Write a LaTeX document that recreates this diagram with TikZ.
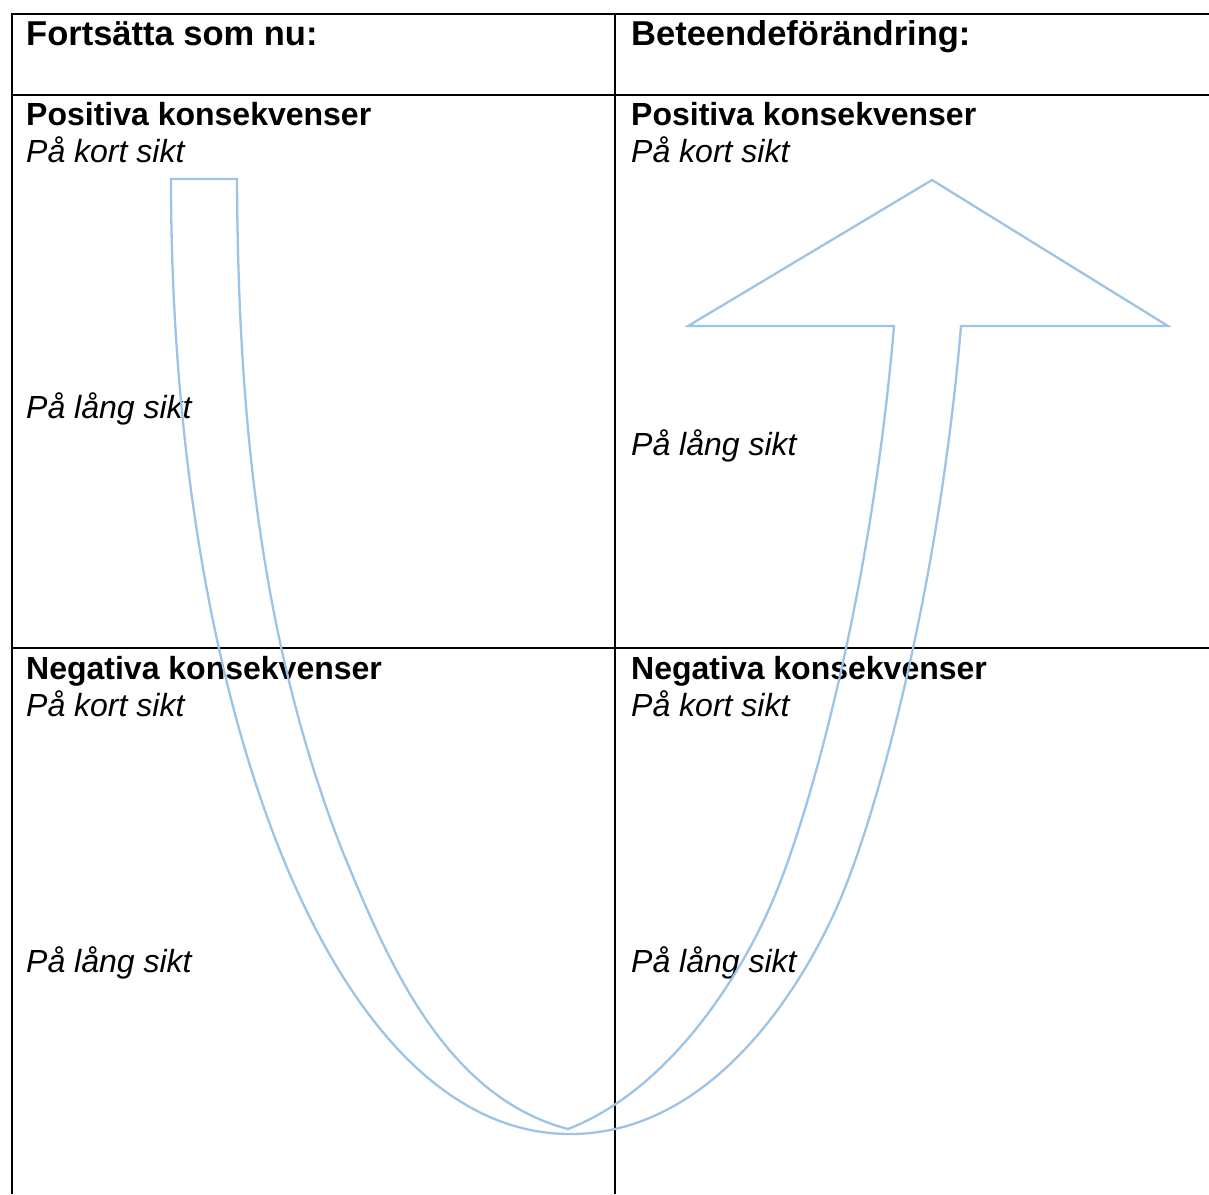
\documentclass[tikz,border=0pt]{standalone}
\usepackage{fontspec}
\setmainfont{Liberation Sans}
\definecolor{arrowblue}{RGB}{157,195,230}
\tikzset{
  gridline/.style={line width=2pt, black},
  arrowline/.style={line width=2.3pt, arrowblue, line join=miter},
  titletxt/.style={anchor=base west, inner sep=0pt, font=\fontsize{34.5}{40}\selectfont\bfseries},
  headtxt/.style={anchor=base west, inner sep=0pt, font=\fontsize{32}{38}\selectfont\bfseries},
  subtxt/.style={anchor=base west, inner sep=0pt, font=\fontsize{32}{38}\selectfont\itshape},
}
\begin{document}
\begin{tikzpicture}[x=1pt,y=-1pt]
\useasboundingbox (0,0) rectangle (1209,1194);
% table
\coordinate (tl) at (12,14);
\coordinate (tr) at (1209,14);
\coordinate (r1l) at (12,95);
\coordinate (r1r) at (1209,95);
\coordinate (r2l) at (12,648);
\coordinate (r2r) at (1209,648);
\coordinate (bl) at (12,1194);
\coordinate (mt) at (615,14);
\coordinate (mb) at (615,1194);
\draw[gridline] (tr) -- (tl) -- (bl);
\draw[gridline] (r1l) -- (r1r);
\draw[gridline] (r2l) -- (r2r);
\draw[gridline] (mt) -- (mb);
% texts
\node[titletxt] (h1) at (26,45) {Fortsätta som nu:};
\node[titletxt] (h2) at (631,45) {Beteendeförändring:};
\node[headtxt] (p1) at (26,125) {Positiva konsekvenser};
\node[subtxt] (p1k) at (26,162) {På kort sikt};
\node[subtxt] (p1l) at (26,418) {På lång sikt};
\node[headtxt] (p2) at (631,125) {Positiva konsekvenser};
\node[subtxt] (p2k) at (631,162) {På kort sikt};
\node[subtxt] (p2l) at (631,455) {På lång sikt};
\node[headtxt] (n1) at (26,679) {Negativa konsekvenser};
\node[subtxt] (n1k) at (26,716) {På kort sikt};
\node[subtxt] (n1l) at (26,972) {På lång sikt};
\node[headtxt] (n2) at (631,679) {Negativa konsekvenser};
\node[subtxt] (n2k) at (631,716) {På kort sikt};
\node[subtxt] (n2l) at (631,972) {På lång sikt};
% U-turn arrow
\coordinate (tailR) at (237,179);
\coordinate (tailL) at (171,179);
\coordinate (bot) at (570,1134);
\coordinate (oMid) at (840,900);
\coordinate (stemR) at (961,326);
\coordinate (headR) at (1168,326);
\coordinate (tip) at (932,180);
\coordinate (headL) at (688,326);
\coordinate (stemL) at (894,326);
\coordinate (iMid) at (773,900);
\coordinate (cusp) at (568,1129);
\coordinate (lMid) at (342,850);
\draw[arrowline] (tailR) -- (tailL)
  .. controls (171,700) and (330,1134) .. (bot)
  .. controls (719,1134) and (808.8,973.6) .. (oMid)
  .. controls (879,808) and (939,586) .. (stemR)
  -- (headR) -- (tip) -- (headL) -- (stemL)
  .. controls (872,586) and (812,808) .. (iMid)
  .. controls (741.8,973.6) and (671,1089) .. (cusp)
  .. controls (442,1096) and (385,954) .. (lMid)
  .. controls (258,635) and (238,406) .. (tailR)
  -- cycle;
\end{tikzpicture}
\end{document}
